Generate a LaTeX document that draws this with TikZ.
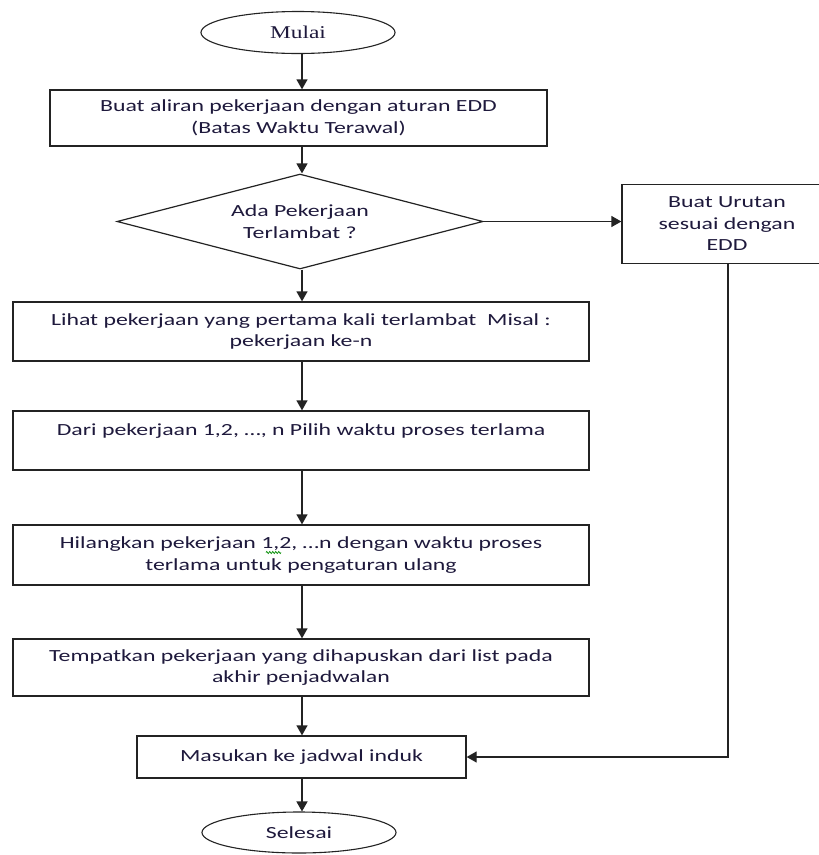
\documentclass[tikz,border=0pt]{standalone}
\usepackage{fontspec}
\usetikzlibrary{shapes.geometric,arrows.meta,decorations.pathmorphing}
\newfontfamily\calfont[FakeStretch=1.4]{Carlito}
\newfontfamily\tmsfont[FakeStretch=1.3]{Liberation Serif}
\definecolor{edge}{RGB}{35,35,35}
\definecolor{txt}{RGB}{30,25,60}
\begin{document}
\begin{tikzpicture}[x=1pt,y=-1pt,
  every node/.style={inner sep=0pt, align=center, text=txt,
    font=\calfont\fontsize{17}{21.5}\selectfont},
  procbox/.style={draw=edge, line width=1.3pt, rectangle, minimum width=576pt},
  termnode/.style={draw=edge, line width=1.1pt, ellipse, minimum width=194pt},
  decide/.style={draw=edge, line width=1.2pt, diamond, aspect=3.85, minimum width=366pt, minimum height=95pt},
  flow/.style={draw=edge, line width=1.3pt, -{Triangle[length=10pt,width=11pt]}},
  squig/.style={draw=green!55!black, line width=0.7pt, decorate, decoration={zigzag, amplitude=1.1pt, segment length=3pt}}]
\fill[white] (0,0) rectangle (819,855);
\useasboundingbox (0,0) rectangle (819,855);
\clip (0,0) rectangle (819,855);
\coordinate (cx) at (302,0);

\node[termnode, minimum height=42pt, font=\tmsfont\fontsize{18}{21}\selectfont] (start) at (298,32.5) {Mulai};
\node[draw=edge, line width=1.3pt, rectangle, minimum width=497pt, minimum height=56pt] (b1) at (298.5,118) {\raisebox{-3pt}{Buat aliran pekerjaan dengan aturan EDD}\\\raisebox{-3pt}{(Batas Waktu Terawal)}};
\node[decide] (dec) at (300,221.5) {Ada Pekerjaan\\Terlambat ?};
\node[draw=edge, line width=1.3pt, rectangle, minimum width=210pt, minimum height=79pt] (rb) at (727,224) {Buat Urutan\\sesuai dengan\\EDD};
\node[procbox, minimum height=59pt] (b2) at (301,331.5) {Lihat pekerjaan yang pertama kali terlambat\ \ Misal :\\pekerjaan ke-n};
\node[procbox, minimum height=59pt] (b3) at (301,440.5) {Dari pekerjaan 1,2, …, n Pilih waktu proses terlama\\ \mbox{}};
\node[procbox, minimum height=60pt] (b4) at (301,555) {Hilangkan pekerjaan 1,2, …n dengan waktu proses\\terlama untuk pengaturan ulang};
\node[procbox, minimum height=57pt] (b5) at (301,667.5) {Tempatkan pekerjaan yang dihapuskan dari list pada\\akhir penjadwalan};
\node[draw=edge, line width=1.3pt, rectangle, minimum width=329pt, minimum height=42pt] (b6) at (301.5,757) {Masukan ke jadwal induk};
\node[termnode, minimum height=41pt] (stop) at (299,832.5) {Selesai};
\coordinate (sqa) at (266,552.5);
\coordinate (sqb) at (281,552.5);

\draw[flow] (start.south -| cx) -- (b1.north -| cx);
\draw[flow] (b1.south -| cx) -- (dec.north -| cx);
\draw[flow] (dec.east) -- (dec.east -| rb.west);
\draw[flow] (dec.south -| cx) -- (b2.north -| cx);
\draw[flow] (b2.south -| cx) -- (b3.north -| cx);
\draw[flow] (b3.south -| cx) -- (b4.north -| cx);
\draw[flow] (b4.south -| cx) -- (b5.north -| cx);
\draw[flow] (b5.south -| cx) -- (b6.north -| cx);
\draw[flow] ([xshift=1pt]rb.south) |- (b6.east);
\draw[flow] (b6.south -| cx) -- (stop.north -| cx);
\draw[squig] (sqa) -- (sqb);
\end{tikzpicture}
\end{document}
